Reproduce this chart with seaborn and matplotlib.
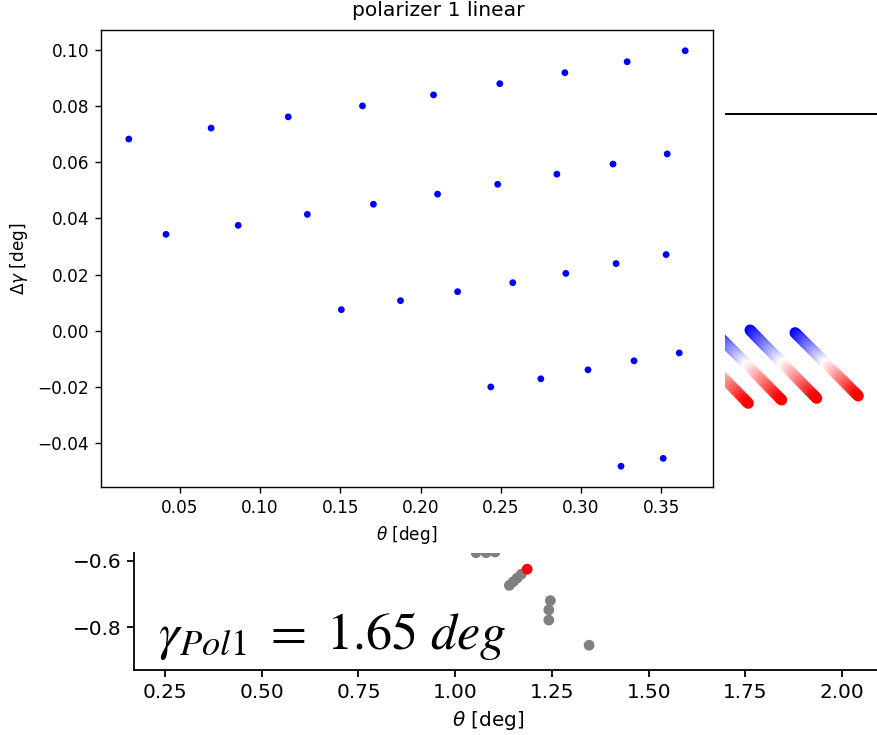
import numpy as np
import pandas as pd
import matplotlib
matplotlib.use("Agg")
import matplotlib.pyplot as plt
import seaborn as sns

# ---------------- data ----------------
# main panel: polarizer 1 linear
theta_main = [0.0181, 0.0694, 0.1175, 0.1638, 0.2081, 0.2494, 0.2900, 0.3288, 0.3650,
              0.0413, 0.0863, 0.1294, 0.1706, 0.2106, 0.2481, 0.2850, 0.3200, 0.3538,
              0.1506, 0.1875, 0.2231, 0.2575, 0.2906, 0.3219, 0.3531,
              0.2438, 0.2750, 0.3044, 0.3331, 0.3613,
              0.3250, 0.3513]
dgamma_main = [0.0682, 0.0721, 0.0761, 0.0800, 0.0839, 0.0879, 0.0918, 0.0957, 0.0996,
               0.0343, 0.0375, 0.0414, 0.0450, 0.0486, 0.0521, 0.0557, 0.0593, 0.0629,
               0.0075, 0.0107, 0.0139, 0.0171, 0.0204, 0.0239, 0.0271,
               -0.0200, -0.0171, -0.0139, -0.0107, -0.0079,
               -0.0482, -0.0454]

# lower panel
theta_low = [1.054, 1.080, 1.103, 1.140, 1.150, 1.160, 1.171, 1.246, 1.242, 1.242, 1.346]
gamma_low = [-0.575, -0.575, -0.573, -0.674, -0.663, -0.652, -0.640, -0.720, -0.748, -0.779, -0.855]
theta_best = [1.186]
gamma_best = [-0.625]
low_xticks = [0.25, 0.50, 0.75, 1.00, 1.25, 1.50, 1.75, 2.00]
low_yticks = [-0.6, -0.8]
annot_text = r'$\gamma_{Pol1}\ =\ 1.65\ deg$'

# right-hand fragment (pixel-like overlay coordinates)
frag_line_y = [114]
stroke_x0 = [681.6, 714.7, 750.0, 795.0]
stroke_y0 = [335.0, 332.0, 330.0, 332.7]
stroke_x1 = [748.3, 781.7, 816.7, 858.3]
stroke_y1 = [403.3, 400.0, 398.3, 396.0]

# ---------------- figure ----------------
sns.set_style("ticks")
plt.rcParams['font.family'] = ['DejaVu Sans']
for key in ("text.color", "axes.labelcolor", "xtick.color", "ytick.color", "axes.edgecolor"):
    plt.rcParams[key] = "black"
W, H = 877, 735
fig = plt.figure(figsize=(W / 100, H / 100), dpi=100)

# main axes
ax = fig.add_axes([101 / W, 1 - 487 / H, (713 - 101) / W, (487 - 30) / H])
df_main = pd.DataFrame({"theta": theta_main, "dgamma": dgamma_main})
sns.scatterplot(data=df_main, x="theta", y="dgamma", ax=ax, color="blue",
                s=24, edgecolor="none", linewidth=0)
ax.margins(0.05)
for sp in ax.spines.values():
    sp.set_visible(True)
    sp.set_linewidth(1.0)
    sp.set_color("black")
ax.tick_params(labelsize=12.2, length=4.3, width=1.0, pad=4.3, colors="black")
ax.set_xticks([0.05, 0.10, 0.15, 0.20, 0.25, 0.30, 0.35])
ax.set_yticks([-0.04, -0.02, 0.00, 0.02, 0.04, 0.06, 0.08, 0.10])
ax.set_xlabel(r'$\theta$ [deg]', fontsize=12.2, labelpad=5)
ax.set_ylabel(r'$\Delta\gamma$ [deg]', fontsize=12.2, labelpad=5)
fig.text(0.5, 1 - 11 / H, "polarizer 1 linear", ha="center", va="center", fontsize=14.6)

# lower axes
ax2 = fig.add_axes([134 / W, 1 - 670 / H, (W - 134) / W, (670 - 553) / H])
df_low = pd.DataFrame({"theta": theta_low, "gamma": gamma_low})
sns.scatterplot(data=df_low, x="theta", y="gamma", ax=ax2, color="grey",
                s=60, edgecolor="none", linewidth=0)
sns.scatterplot(x=theta_best, y=gamma_best, ax=ax2, color="red",
                s=60, edgecolor="none", linewidth=0)
ax2.set_xlim(0.17, 2.09)
ax2.set_ylim(-0.930, -0.576)
ax2.set_xticks(low_xticks)
ax2.set_yticks(low_yticks)
ax2.set_xticklabels([f"{v:.2f}" for v in low_xticks])
ax2.set_yticklabels([f"\u2212{abs(v):.1f}" for v in low_yticks])
sns.despine(ax=ax2)
for sp in ("left", "bottom"):
    ax2.spines[sp].set_linewidth(1.3)
    ax2.spines[sp].set_color("black")
ax2.tick_params(labelsize=14.4, length=4.8, width=1.3, pad=4.5, colors="black")
ax2.set_xlabel(r'$\theta$ [deg]', fontsize=14.4)
ax2.set_ylabel("")
ax2.xaxis.set_label_coords((488 - 134) / (W - 134), -0.33)
ax2.text(0.232, -0.866, annot_text, fontsize=37.5, ha="left", va="baseline",
         math_fontfamily="stix", color="black")

# right-hand fragment overlay
ax3 = fig.add_axes([725 / W, 1 - 420 / H, (W - 725) / W, (420 - 100) / H])
ax3.set_xlim(725, W)
ax3.set_ylim(420, 100)
ax3.axis("off")
for y in frag_line_y:
    ax3.axhline(y, color="black", lw=1.4)
for x0, y0, x1, y1 in zip(stroke_x0, stroke_y0, stroke_x1, stroke_y1):
    t = np.linspace(0, 1, 120)
    ax3.scatter(x0 + t * (x1 - x0), y0 + t * (y1 - y0), c=t, cmap="bwr",
                vmin=0, vmax=1, s=62, edgecolors="none")

fig.savefig("out.png", dpi=100)
